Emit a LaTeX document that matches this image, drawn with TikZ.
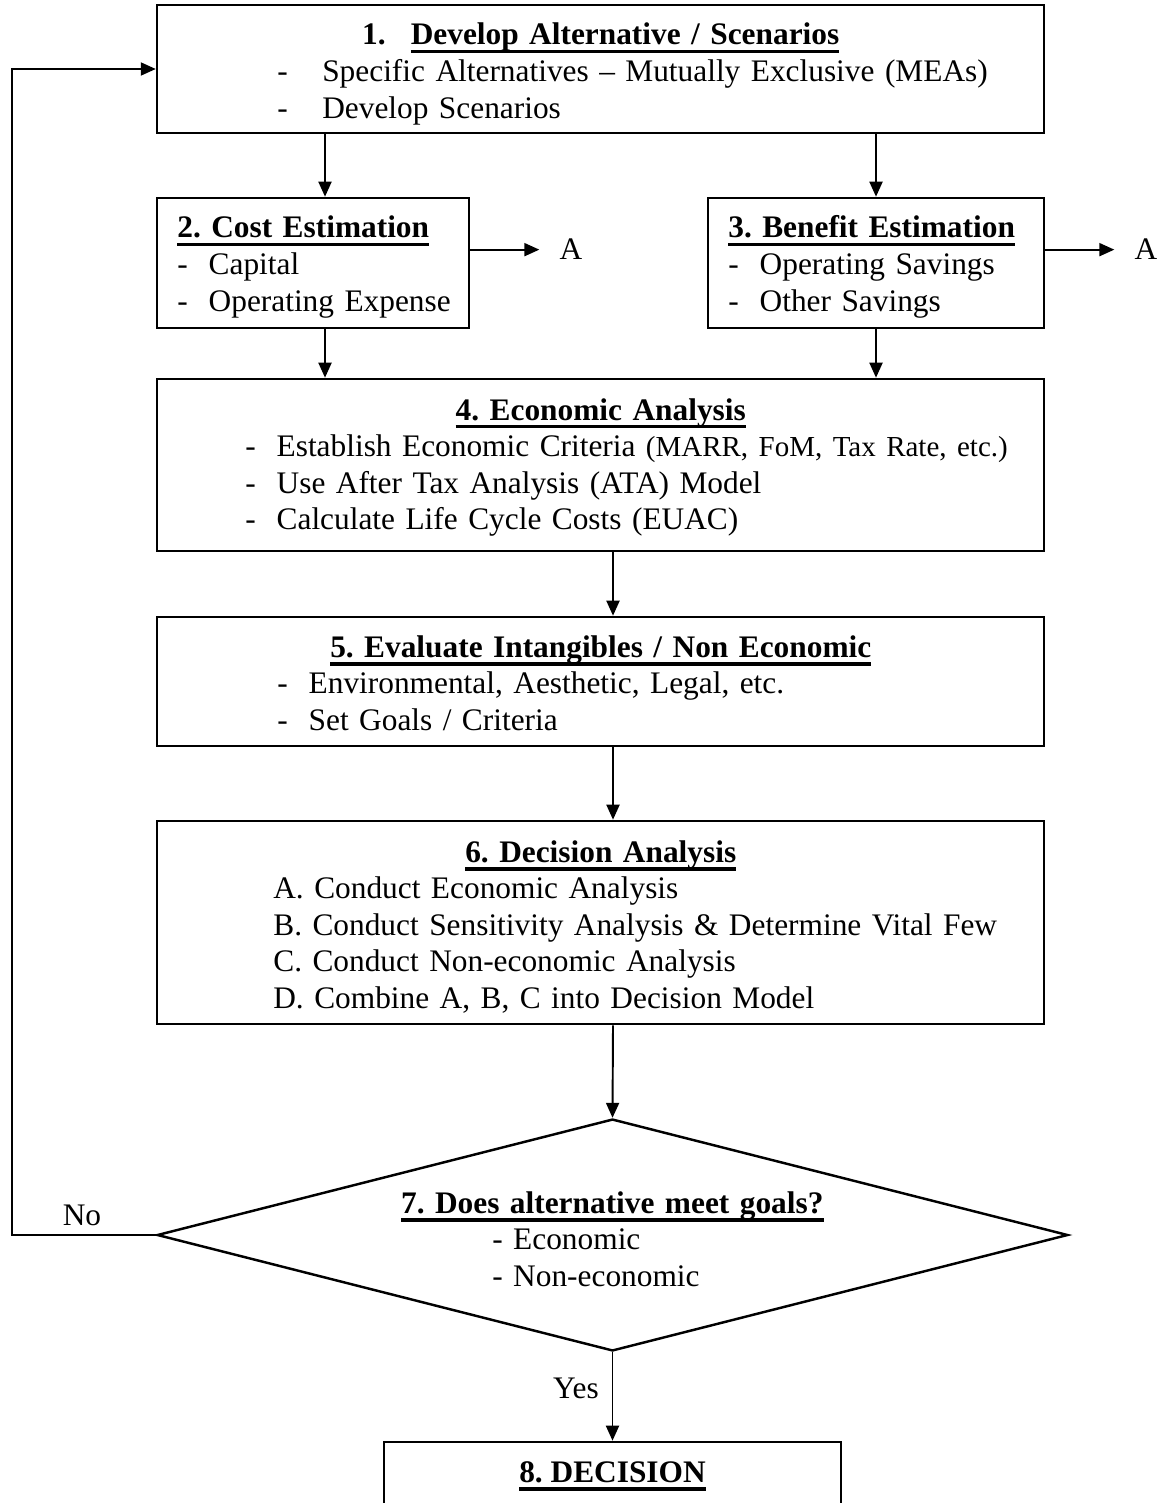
\documentclass[tikz,border=0pt]{standalone}
\usepackage{fontspec}
\setmainfont{Liberation Serif}
\usetikzlibrary{shapes.geometric,arrows.meta}

% thick underline used for the step titles
\newcommand{\ulbar}[1]{\sbox0{#1}\rlap{\rule[-0.17cm]{\wd0}{0.075cm}}\usebox0}

\begin{document}
\frenchspacing
\begin{tikzpicture}[
  x=0.02cm, y=-0.02cm,
  every node/.style={font=\fontsize{17.85pt}{20.8pt}\selectfont},
  box/.style={
    draw,
    line width=1.5pt,
    inner sep=0pt
  },
  txt/.style={
    anchor=base west,
    inner sep=0pt,
    align=left,
    text width=#1
  },
  decision/.style={
    diamond,
    draw,
    line width=1.4pt,
    inner sep=0pt
  },
  lbl/.style={anchor=base, inner sep=0pt},
  arr/.style={-{Triangle[length=0.3cm,width=0.26cm]}, line width=1.1pt}
]
\path[use as bounding box, clip] (0,0) rectangle (1163,1503);

% -------- Columns for the arrows --------
\coordinate (colL) at (325,0);
\coordinate (colR) at (876,0);
\coordinate (colM) at (613,0);
\coordinate (lp)   at (12,0);

% -------- Step 1 --------
\node[box, minimum width=17.74cm, minimum height=2.56cm] (b1) at (600.5,69) {};
\node[txt=17.74cm] (b1t) at (157,45)
{\makebox[\linewidth]{\bfseries 1.\hspace{0.5cm}\ulbar{Develop Alternative / Scenarios}}\\
\hspace*{2.4cm}\makebox[0.9cm][l]{-}Specific Alternatives -- Mutually Exclusive (MEAs)\\
\hspace*{2.4cm}\makebox[0.9cm][l]{-}Develop Scenarios};

% -------- Steps 2 and 3 --------
\node[box, minimum width=6.24cm, minimum height=2.6cm] (b2) at (313,263) {};
\node[txt=6.24cm] (b2t) at (157,238)
{\hspace*{0.4cm}\textbf{\ulbar{2. Cost Estimation}}\\
\hspace*{0.4cm}-~~Capital\\
\hspace*{0.4cm}-~~Operating Expense};

\node[box, minimum width=6.72cm, minimum height=2.6cm] (b3) at (876,263) {};
\node[txt=6.72cm] (b3t) at (708,238)
{\hspace*{0.4cm}\textbf{\ulbar{3. Benefit Estimation}}\\
\hspace*{0.4cm}-~~Operating Savings\\
\hspace*{0.4cm}-~~Other Savings};

\node[lbl] (a2) at (571,260) {A};
\node[lbl] (a3) at (1146,260) {A};

% -------- Step 4 --------
\node[box, minimum width=17.74cm, minimum height=3.44cm] (b4) at (600.5,465) {};
\node[txt=17.74cm] (b4t) at (157,420)
{\makebox[\linewidth]{\bfseries\ulbar{4. Economic Analysis}}\\
\hspace*{1.76cm}-~~Establish Economic Criteria {\fontsize{16.5pt}{20.8pt}\selectfont(MARR, FoM, Tax Rate, etc.)}\\
\hspace*{1.76cm}-~~Use After Tax Analysis (ATA) Model\\
\hspace*{1.76cm}-~~Calculate Life Cycle Costs (EUAC)};

% -------- Step 5 --------
\node[box, minimum width=17.74cm, minimum height=2.58cm] (b5) at (600.5,681.5) {};
\node[txt=17.74cm] (b5t) at (157,657)
{\makebox[\linewidth]{\bfseries\ulbar{5. Evaluate Intangibles / Non Economic}}\\
\hspace*{2.4cm}-~~Environmental, Aesthetic, Legal, etc.\\
\hspace*{2.4cm}-~~Set Goals / Criteria};

% -------- Step 6 --------
\node[box, minimum width=17.74cm, minimum height=4.06cm] (b6) at (600.5,922.5) {};
\node[txt=17.74cm] (b6t) at (157,862)
{\makebox[\linewidth]{\bfseries\ulbar{6. Decision Analysis}}\\
\hspace*{2.32cm}A. Conduct Economic Analysis\\
\hspace*{2.32cm}B. Conduct Sensitivity Analysis \& Determine Vital Few\\
\hspace*{2.32cm}C. Conduct Non-economic Analysis\\
\hspace*{2.32cm}D. Combine A, B, C into Decision Model};

% -------- Step 7 (decision) --------
\node[decision, minimum width=18.22cm, minimum height=4.64cm] (d7) at (612.5,1235) {};
\node[txt=9cm] (d7t) at (387,1213)
{\makebox[\linewidth]{\bfseries\ulbar{7. Does alternative meet goals?}}\\
\hspace*{2.1cm}- Economic\\
\hspace*{2.1cm}- Non-economic};

% -------- Step 8 --------
\node[box, minimum width=9.14cm, minimum height=4cm] (b8) at (612.5,1542) {};
\node[lbl] (b8t) at (612.5,1482) {\bfseries\ulbar{8. DECISION}};

% -------- Arrows --------
\draw[arr] (b1.south -| colL) -- (b2.north -| colL);
\draw[arr] (b1.south -| colR) -- (b3.north -| colR);
\draw[arr] (b2.east |- a2.west) -- ([xshift=-0.4cm]a2.west);
\draw[arr] (b3.east |- a3.west) -- ([xshift=-0.4cm]a3.west);
\draw[arr] (b2.south -| colL) -- (b4.north -| colL);
\draw[arr] (b3.south -| colR) -- (b4.north -| colR);
\draw[arr] (b4.south -| colM) -- (b5.north -| colM);
\draw[arr] (b5.south -| colM) -- (b6.north -| colM);
\draw[arr] (b6.south -| colM) -- (d7.north);
\draw[arr] (d7.south) -- (b8.north);
\draw[arr] (d7.west) -- (d7.west -| lp) |- (b1.west);

\node[lbl] (no)  at (82,1225)  {No};
\node[lbl] (yes) at (576,1398) {Yes};

\end{tikzpicture}
\end{document}
